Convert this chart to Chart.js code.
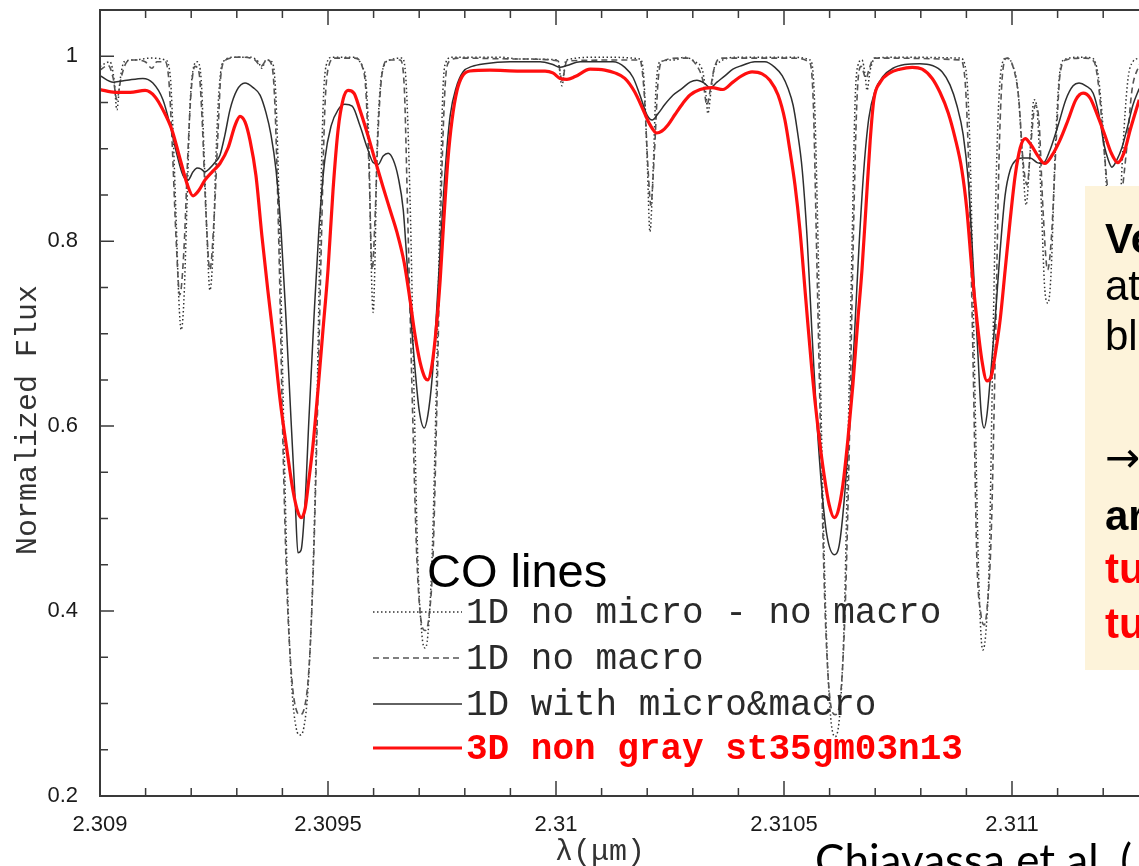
<!DOCTYPE html>
<html>
<head>
<meta charset="utf-8">
<title>CO lines - 1D vs 3D synthetic spectra</title>
<script src="https://cdn.jsdelivr.net/npm/chart.js@4.4.1/dist/chart.umd.min.js"></script>
<style>
    html, body { margin: 0; padding: 0; background: #fff; overflow: hidden; }
    #wrap { position: relative; width: 1139px; height: 866px; }
</style>
</head>
<body>
<div id="wrap"><canvas id="spectrumChart"></canvas></div>
<script>
// axis ticks
const xMajorTicks = [2.309, 2.3095, 2.31, 2.3105, 2.311];
const xTickLabels = ["2.309", "2.3095", "2.31", "2.3105", "2.311"];
const xMinorTicks = [2.3091, 2.3092, 2.3093, 2.3094, 2.3096, 2.3097, 2.3098, 2.3099,
                     2.3101, 2.3102, 2.3103, 2.3104, 2.3106, 2.3107, 2.3108, 2.3109, 2.3111, 2.3112];
const yMajorTicks = [0.2, 0.4, 0.6, 0.8, 1];
const yTickLabels = ["0.2", "0.4", "0.6", "0.8", "1"];
const yMinorTicks = [0.25, 0.3, 0.35, 0.45, 0.5, 0.55, 0.65, 0.7, 0.75, 0.85, 0.9, 0.95, 1.0, 1.05];

// spectra: [wavelength (um), normalized flux]
const noMicroNoMacro = [
    [2.309000,0.989],[2.309022,0.994],[2.309031,0.974],[2.309037,0.942],[2.309044,0.974],[2.309053,0.994],
    [2.309077,0.996],[2.309110,0.998],[2.309143,0.996],[2.309154,0.979],[2.309160,0.920],[2.309167,0.823],
    [2.309173,0.736],[2.309178,0.704],[2.309184,0.736],[2.309191,0.844],[2.309197,0.942],[2.309204,0.985],
    [2.309213,0.994],[2.309222,0.974],[2.309228,0.898],[2.309235,0.801],[2.309241,0.747],[2.309248,0.790],
    [2.309254,0.888],[2.309261,0.963],[2.309270,0.994],[2.309296,0.999],[2.309329,0.999],[2.309347,0.994],
    [2.309355,0.987],[2.309364,0.996],[2.309377,0.994],[2.309386,0.953],[2.309395,0.790],[2.309404,0.574],
    [2.309412,0.412],[2.309421,0.315],[2.309430,0.274],[2.309439,0.266],[2.309447,0.274],[2.309456,0.315],
    [2.309465,0.412],[2.309474,0.574],[2.309482,0.790],[2.309489,0.942],[2.309496,0.990],[2.309509,0.999],
    [2.309559,0.999],[2.309570,0.994],[2.309577,0.987],[2.309583,0.974],[2.309590,0.898],[2.309594,0.790],
    [2.309599,0.723],[2.309603,0.779],[2.309607,0.888],[2.309614,0.963],[2.309623,0.990],[2.309636,0.996],
    [2.309662,0.998],[2.309671,0.974],[2.309680,0.844],[2.309689,0.628],[2.309697,0.455],[2.309706,0.374],
    [2.309713,0.360],[2.309719,0.374],[2.309728,0.455],[2.309737,0.628],[2.309746,0.844],[2.309752,0.963],
    [2.309759,0.994],[2.309772,0.999],[2.309877,0.999],[2.309921,0.997],[2.310004,0.996],[2.310013,0.968],
    [2.310022,0.996],[2.310097,0.999],[2.310184,0.997],[2.310193,0.974],[2.310200,0.888],[2.310206,0.810],
    [2.310213,0.877],[2.310219,0.963],[2.310228,0.994],[2.310261,0.996],[2.310281,0.999],[2.310305,0.994],
    [2.310322,0.983],[2.310329,0.958],[2.310333,0.938],[2.310340,0.963],[2.310349,0.990],[2.310404,0.999],
    [2.310513,0.999],[2.310557,0.996],[2.310566,0.963],[2.310575,0.790],[2.310583,0.574],[2.310592,0.390],
    [2.310601,0.293],[2.310612,0.264],[2.310623,0.293],[2.310632,0.390],[2.310640,0.574],[2.310649,0.790],
    [2.310656,0.953],[2.310662,0.990],[2.310671,0.996],[2.310678,0.979],[2.310682,0.963],[2.310689,0.985],
    [2.310700,0.998],[2.310754,0.999],[2.310886,0.998],[2.310899,0.985],[2.310908,0.898],[2.310917,0.682],
    [2.310926,0.455],[2.310932,0.374],[2.310936,0.358],[2.310943,0.379],[2.310950,0.455],[2.310958,0.682],
    [2.310967,0.898],[2.310976,0.985],[2.310987,0.998],[2.311000,0.992],[2.311013,0.963],[2.311022,0.898],
    [2.311031,0.839],[2.311040,0.898],[2.311048,0.953],[2.311055,0.942],[2.311064,0.844],[2.311072,0.747],
    [2.311079,0.733],[2.311086,0.769],[2.311094,0.888],[2.311103,0.974],[2.311114,0.996],[2.311149,0.999],
    [2.311176,0.998],[2.311189,0.979],[2.311200,0.920],[2.311211,0.823],[2.311222,0.736],[2.311233,0.790],
    [2.311243,0.898],[2.311254,0.974],[2.311265,0.994],[2.311279,0.998]
];

const noMacro = [
    [2.309000,0.985],[2.309018,0.990],[2.309029,0.976],[2.309037,0.953],[2.309046,0.976],[2.309059,0.994],
    [2.309072,0.996],[2.309099,0.994],[2.309114,0.987],[2.309125,0.994],[2.309143,0.994],[2.309151,0.974],
    [2.309158,0.909],[2.309167,0.801],[2.309175,0.742],[2.309184,0.790],[2.309193,0.898],[2.309200,0.963],
    [2.309208,0.989],[2.309217,0.983],[2.309224,0.931],[2.309232,0.834],[2.309241,0.769],[2.309250,0.823],
    [2.309259,0.920],[2.309265,0.979],[2.309276,0.996],[2.309307,0.999],[2.309340,0.996],[2.309353,0.989],
    [2.309366,0.996],[2.309377,0.990],[2.309384,0.942],[2.309393,0.779],[2.309401,0.585],[2.309410,0.423],
    [2.309421,0.325],[2.309432,0.291],[2.309439,0.288],[2.309447,0.293],[2.309458,0.336],[2.309467,0.434],
    [2.309476,0.596],[2.309485,0.790],[2.309493,0.942],[2.309502,0.990],[2.309515,0.998],[2.309559,0.998],
    [2.309575,0.989],[2.309583,0.963],[2.309590,0.877],[2.309597,0.769],[2.309603,0.823],[2.309610,0.920],
    [2.309618,0.979],[2.309632,0.996],[2.309658,0.996],[2.309667,0.969],[2.309675,0.823],[2.309686,0.606],
    [2.309695,0.455],[2.309704,0.390],[2.309713,0.379],[2.309721,0.392],[2.309730,0.455],[2.309739,0.628],
    [2.309748,0.844],[2.309757,0.969],[2.309765,0.994],[2.309789,0.998],[2.309921,0.997],[2.310004,0.995],
    [2.310013,0.974],[2.310024,0.995],[2.310184,0.996],[2.310193,0.963],[2.310202,0.877],[2.310208,0.839],
    [2.310215,0.888],[2.310224,0.974],[2.310232,0.994],[2.310272,0.998],[2.310290,0.998],[2.310307,0.991],
    [2.310322,0.974],[2.310331,0.947],[2.310338,0.963],[2.310347,0.987],[2.310360,0.998],[2.310513,0.998],
    [2.310555,0.994],[2.310564,0.953],[2.310572,0.779],[2.310581,0.574],[2.310590,0.401],[2.310601,0.304],
    [2.310612,0.288],[2.310623,0.304],[2.310634,0.401],[2.310643,0.574],[2.310651,0.779],[2.310660,0.953],
    [2.310669,0.989],[2.310680,0.976],[2.310686,0.985],[2.310697,0.998],[2.310886,0.996],[2.310897,0.974],
    [2.310906,0.866],[2.310915,0.661],[2.310923,0.455],[2.310932,0.396],[2.310939,0.385],[2.310945,0.401],
    [2.310954,0.477],[2.310963,0.671],[2.310972,0.898],[2.310980,0.985],[2.310989,0.998],[2.311002,0.989],
    [2.311015,0.953],[2.311024,0.888],[2.311033,0.861],[2.311042,0.909],[2.311051,0.947],[2.311059,0.931],
    [2.311068,0.834],[2.311078,0.769],[2.311086,0.801],[2.311097,0.909],[2.311105,0.979],[2.311118,0.996],
    [2.311160,0.998],[2.311180,0.994],[2.311191,0.963],[2.311202,0.898],[2.311215,0.834],[2.311228,0.812],
    [2.311239,0.844],[2.311251,0.898],[2.311263,0.963],[2.311279,0.991]
];

const microMacro = [
    [2.309000,0.979],[2.309029,0.972],[2.309059,0.974],[2.309094,0.976],[2.309116,0.971],[2.309138,0.953],
    [2.309154,0.925],[2.309169,0.893],[2.309182,0.871],[2.309193,0.866],[2.309204,0.875],[2.309213,0.879],
    [2.309222,0.878],[2.309230,0.875],[2.309241,0.879],[2.309252,0.885],[2.309263,0.893],[2.309274,0.915],
    [2.309285,0.942],[2.309300,0.963],[2.309318,0.971],[2.309336,0.966],[2.309351,0.958],[2.309364,0.939],
    [2.309375,0.915],[2.309386,0.877],[2.309397,0.812],[2.309408,0.715],[2.309419,0.606],[2.309428,0.520],
    [2.309434,0.463],[2.309441,0.466],[2.309450,0.520],[2.309458,0.606],[2.309469,0.715],[2.309480,0.812],
    [2.309493,0.888],[2.309507,0.925],[2.309522,0.942],[2.309537,0.948],[2.309553,0.946],[2.309570,0.925],
    [2.309586,0.901],[2.309599,0.885],[2.309610,0.883],[2.309621,0.892],[2.309632,0.895],[2.309643,0.888],
    [2.309654,0.869],[2.309665,0.834],[2.309673,0.779],[2.309682,0.715],[2.309691,0.661],[2.309700,0.617],
    [2.309711,0.598],[2.309719,0.612],[2.309728,0.650],[2.309737,0.715],[2.309746,0.790],[2.309757,0.877],
    [2.309768,0.936],[2.309781,0.966],[2.309796,0.983],[2.309816,0.989],[2.309844,0.992],[2.309899,0.994],
    [2.309965,0.994],[2.309993,0.991],[2.310009,0.988],[2.310024,0.990],[2.310053,0.994],[2.310125,0.994],
    [2.310151,0.988],[2.310169,0.977],[2.310184,0.958],[2.310200,0.936],[2.310211,0.931],[2.310224,0.938],
    [2.310239,0.948],[2.310257,0.958],[2.310276,0.965],[2.310294,0.972],[2.310309,0.974],[2.310325,0.971],
    [2.310338,0.966],[2.310353,0.972],[2.310371,0.979],[2.310388,0.986],[2.310408,0.990],[2.310436,0.994],
    [2.310458,0.994],[2.310480,0.988],[2.310496,0.979],[2.310509,0.965],[2.310520,0.947],[2.310529,0.920],
    [2.310540,0.877],[2.310551,0.801],[2.310561,0.704],[2.310572,0.606],[2.310583,0.531],[2.310594,0.482],
    [2.310610,0.461],[2.310621,0.471],[2.310632,0.520],[2.310643,0.596],[2.310654,0.693],[2.310664,0.790],
    [2.310675,0.877],[2.310686,0.933],[2.310700,0.963],[2.310717,0.978],[2.310739,0.987],[2.310765,0.991],
    [2.310798,0.992],[2.310825,0.990],[2.310847,0.983],[2.310864,0.969],[2.310879,0.947],[2.310893,0.915],
    [2.310904,0.866],[2.310912,0.801],[2.310919,0.736],[2.310926,0.671],[2.310932,0.617],[2.310939,0.598],
    [2.310945,0.612],[2.310954,0.661],[2.310963,0.715],[2.310974,0.790],[2.310985,0.850],[2.310996,0.877],
    [2.311009,0.888],[2.311022,0.890],[2.311040,0.890],[2.311055,0.885],[2.311068,0.884],[2.311083,0.898],
    [2.311101,0.925],[2.311118,0.953],[2.311134,0.968],[2.311147,0.971],[2.311162,0.968],[2.311178,0.960],
    [2.311191,0.936],[2.311202,0.904],[2.311211,0.888],[2.311219,0.880],[2.311230,0.888],[2.311241,0.901],
    [2.311254,0.925],[2.311265,0.947],[2.311279,0.965]
];

const nonGray3D = [
    [2.309000,0.964],[2.309033,0.961],[2.309066,0.961],[2.309099,0.963],[2.309121,0.956],[2.309138,0.942],
    [2.309158,0.920],[2.309175,0.890],[2.309193,0.859],[2.309204,0.849],[2.309217,0.855],[2.309230,0.866],
    [2.309246,0.875],[2.309263,0.884],[2.309281,0.901],[2.309296,0.925],[2.309307,0.935],[2.309318,0.929],
    [2.309329,0.909],[2.309342,0.871],[2.309355,0.806],[2.309368,0.747],[2.309382,0.688],[2.309395,0.628],
    [2.309410,0.574],[2.309423,0.531],[2.309434,0.507],[2.309441,0.501],[2.309450,0.511],[2.309458,0.542],
    [2.309467,0.579],[2.309478,0.639],[2.309489,0.704],[2.309500,0.769],[2.309511,0.855],[2.309522,0.920],
    [2.309533,0.953],[2.309544,0.963],[2.309557,0.960],[2.309570,0.942],[2.309586,0.917],[2.309603,0.888],
    [2.309621,0.858],[2.309636,0.834],[2.309651,0.810],[2.309667,0.777],[2.309680,0.736],[2.309691,0.698],
    [2.309702,0.669],[2.309713,0.652],[2.309719,0.650],[2.309728,0.666],[2.309737,0.704],[2.309746,0.758],
    [2.309754,0.823],[2.309763,0.888],[2.309772,0.931],[2.309783,0.963],[2.309794,0.978],[2.309811,0.984],
    [2.309855,0.985],[2.309921,0.984],[2.309976,0.984],[2.309993,0.982],[2.310009,0.976],[2.310024,0.975],
    [2.310042,0.978],[2.310075,0.986],[2.310107,0.985],[2.310129,0.982],[2.310151,0.976],[2.310173,0.961],
    [2.310191,0.942],[2.310206,0.926],[2.310221,0.917],[2.310232,0.919],[2.310246,0.926],[2.310261,0.937],
    [2.310278,0.949],[2.310294,0.958],[2.310316,0.964],[2.310342,0.966],[2.310366,0.964],[2.310388,0.972],
    [2.310408,0.979],[2.310430,0.983],[2.310452,0.981],[2.310469,0.974],[2.310487,0.958],[2.310502,0.931],
    [2.310513,0.898],[2.310524,0.861],[2.310535,0.812],[2.310548,0.736],[2.310561,0.661],[2.310575,0.596],
    [2.310588,0.547],[2.310599,0.515],[2.310610,0.501],[2.310618,0.507],[2.310629,0.536],[2.310640,0.585],
    [2.310651,0.644],[2.310662,0.715],[2.310671,0.769],[2.310680,0.839],[2.310689,0.909],[2.310697,0.953],
    [2.310711,0.972],[2.310732,0.982],[2.310754,0.986],[2.310781,0.988],[2.310803,0.986],[2.310825,0.976],
    [2.310842,0.961],[2.310860,0.939],[2.310875,0.912],[2.310890,0.877],[2.310901,0.834],[2.310912,0.769],
    [2.310923,0.715],[2.310934,0.671],[2.310945,0.649],[2.310954,0.653],[2.310963,0.677],[2.310974,0.715],
    [2.310985,0.769],[2.310996,0.823],[2.311007,0.871],[2.311018,0.901],[2.311029,0.911],[2.311042,0.904],
    [2.311057,0.892],[2.311072,0.884],[2.311088,0.893],[2.311105,0.909],[2.311123,0.931],[2.311140,0.953],
    [2.311156,0.960],[2.311171,0.955],[2.311186,0.938],[2.311202,0.917],[2.311217,0.896],[2.311232,0.885],
    [2.311246,0.896],[2.311259,0.920],[2.311279,0.953]
];

const toPoints = arr => arr.map(p => ({ x: p[0], y: p[1] }));

// frame with inward ticks on left, top and bottom
const spectrumFrame = {
    id: "spectrumFrame",
    afterDatasetsDraw(chart) {
        const { ctx, chartArea: a, scales: { x, y } } = chart;
        ctx.save();
        ctx.strokeStyle = "#3a3a3a";
        ctx.lineWidth = 2;
        ctx.beginPath();
        ctx.moveTo(a.right, a.top);
        ctx.lineTo(a.left, a.top);
        ctx.lineTo(a.left, a.bottom);
        ctx.lineTo(a.right, a.bottom);
        ctx.stroke();

        ctx.lineWidth = 1.5;
        ctx.beginPath();
        yMajorTicks.forEach(v => {
            const py = y.getPixelForValue(v);
            ctx.moveTo(a.left, py); ctx.lineTo(a.left + 14, py);
        });
        yMinorTicks.forEach(v => {
            const py = y.getPixelForValue(v);
            ctx.moveTo(a.left, py); ctx.lineTo(a.left + 8, py);
        });
        xMajorTicks.forEach(v => {
            const px = x.getPixelForValue(v);
            ctx.moveTo(px, a.bottom); ctx.lineTo(px, a.bottom - 15);
            ctx.moveTo(px, a.top); ctx.lineTo(px, a.top + 15);
        });
        xMinorTicks.forEach(v => {
            const px = x.getPixelForValue(v);
            ctx.moveTo(px, a.bottom); ctx.lineTo(px, a.bottom - 8);
            ctx.moveTo(px, a.top); ctx.lineTo(px, a.top + 8);
        });
        ctx.stroke();
        ctx.restore();
    }
};

// titles, legend and the slide notes around the plot
const slideNotes = {
    id: "slideNotes",
    afterDraw(chart) {
        const ctx = chart.ctx;
        ctx.save();

        // axis titles
        ctx.fillStyle = "#333";
        ctx.font = "30px 'Liberation Mono', monospace";
        ctx.textAlign = "center";
        ctx.textBaseline = "alphabetic";
        ctx.save();
        ctx.translate(36, 420);
        ctx.rotate(-Math.PI / 2);
        ctx.fillText("Normalized Flux", 0, 0);
        ctx.restore();
        ctx.font = "30px 'Liberation Mono', monospace";
        ctx.fillText("λ(μm)", 600, 860);

        // legend
        const rows = [612, 658, 704, 748];
        chart.data.datasets.forEach((ds, i) => {
            const ry = rows[i];
            ctx.strokeStyle = ds.borderColor;
            ctx.lineWidth = ds.borderWidth;
            ctx.setLineDash(ds.borderDash || []);
            ctx.beginPath();
            ctx.moveTo(373, ry);
            ctx.lineTo(462, ry);
            ctx.stroke();
            ctx.setLineDash([]);
            const red = i === 3;
            ctx.fillStyle = red ? "#ff0000" : "#2a2a2a";
            ctx.font = (red ? "bold " : "") + "36px 'Liberation Mono', monospace";
            ctx.textAlign = "left";
            ctx.fillText(ds.label, 466, ry + 11);
        });

        ctx.fillStyle = "#000";
        ctx.font = "47px 'Liberation Sans', Arial, sans-serif";
        ctx.fillText("CO lines", 427, 587);

        // note box on the right
        ctx.fillStyle = "#fdf3da";
        ctx.fillRect(1085, 186, 60, 484);
        const noteLines = [
            ["Ve", 253, true, "#000", "'Liberation Sans', Arial, sans-serif"],
            ["at", 300, false, "#000", "'Liberation Sans', Arial, sans-serif"],
            ["bl", 350, false, "#000", "'Liberation Sans', Arial, sans-serif"],
            ["→", 472, false, "#000", "'DejaVu Sans', sans-serif"],
            ["ar", 530, true, "#000", "'Liberation Sans', Arial, sans-serif"],
            ["tu", 583, true, "#ff0000", "'Liberation Sans', Arial, sans-serif"],
            ["tu", 638, true, "#ff0000", "'Liberation Sans', Arial, sans-serif"]
        ];
        noteLines.forEach(([t, by, bold, c, fam]) => {
            ctx.fillStyle = c;
            ctx.font = (bold ? "bold " : "") + "42px " + fam;
            ctx.fillText(t, 1105, by);
        });

        ctx.fillStyle = "#000";
        ctx.font = "44px Lato, 'Open Sans', sans-serif";
        ctx.fillText("Chiavassa et al. (", 815, 876);
        ctx.restore();
    }
};

const canvas = document.getElementById("spectrumChart");
canvas.width = 1139;
canvas.height = 866;

new Chart(canvas.getContext("2d"), {
    type: "line",
    data: {
        datasets: [{
            label: "1D no micro - no macro",
            data: toPoints(noMicroNoMacro),
            borderColor: "#333333",
            borderWidth: 1.5,
            borderDash: [1.5, 2.5],
            order: 3
        }, {
            label: "1D no macro",
            data: toPoints(noMacro),
            borderColor: "#555555",
            borderWidth: 1.6,
            borderDash: [6, 4],
            order: 2
        }, {
            label: "1D with micro&macro",
            data: toPoints(microMacro),
            borderColor: "#2e2e2e",
            borderWidth: 1.5,
            order: 1
        }, {
            label: "3D non gray st35gm03n13",
            data: toPoints(nonGray3D),
            borderColor: "#ff0f0f",
            borderWidth: 3.2,
            order: 0
        }]
    },
    options: {
        responsive: false,
        animation: false,
        parsing: false,
        layout: { padding: { top: 10, left: 0, right: 0, bottom: 0 } },
        elements: {
            point: { radius: 0 },
            line: { cubicInterpolationMode: "monotone", fill: false }
        },
        plugins: {
            legend: { display: false },
            tooltip: { enabled: false }
        },
        scales: {
            x: {
                type: "linear",
                min: 2.309,
                max: 2.3112785,
                afterFit: s => { s.height = 70; s.paddingLeft = 0; s.paddingRight = 0; },
                afterBuildTicks: s => { s.ticks = xMajorTicks.map(v => ({ value: v })); },
                grid: { display: false },
                border: { display: false },
                ticks: {
                    autoSkip: false,
                    maxRotation: 0,
                    padding: 8,
                    color: "#1a1a1a",
                    font: { family: "'Liberation Sans', Arial, sans-serif", size: 22 },
                    callback: (v, i) => xTickLabels[i]
                }
            },
            y: {
                type: "linear",
                min: 0.2,
                max: 1.05,
                afterFit: s => { s.width = 100; s.paddingTop = 0; s.paddingBottom = 0; },
                afterBuildTicks: s => { s.ticks = yMajorTicks.map(v => ({ value: v })); },
                grid: { display: false },
                border: { display: false },
                ticks: {
                    padding: 14,
                    color: "#1a1a1a",
                    font: { family: "'Liberation Sans', Arial, sans-serif", size: 22 },
                    callback: (v, i) => yTickLabels[i]
                }
            }
        }
    },
    plugins: [spectrumFrame, slideNotes]
});
</script>
</body>
</html>
